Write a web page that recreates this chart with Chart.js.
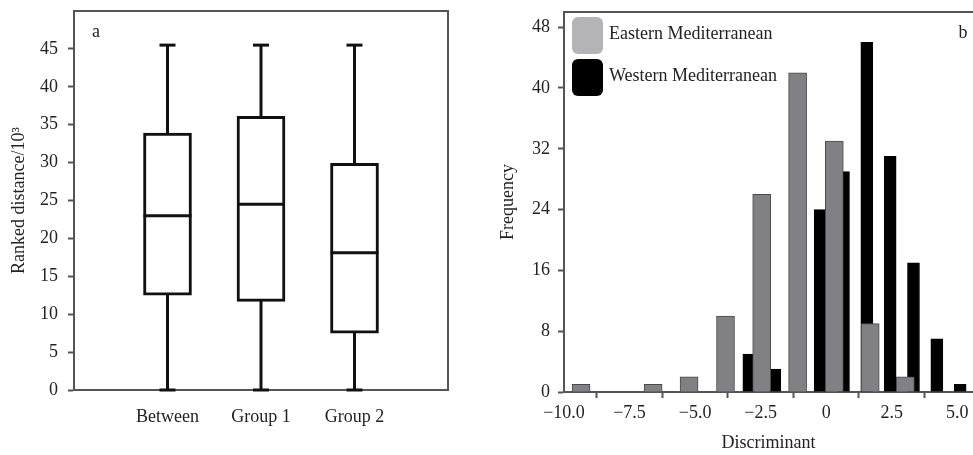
<!DOCTYPE html>
<html>
<head>
<meta charset="utf-8">
<script src="https://cdn.jsdelivr.net/npm/chart.js@4.4.0/dist/chart.umd.min.js"></script>
<style>
    html, body { margin: 0; padding: 0; background: #fff; }
    #wrap { position: relative; width: 973px; height: 455px; }
    #boxWrap { position: absolute; left: 0; top: 0; }
    #histWrap { position: absolute; left: 486px; top: 0; }
</style>
</head>
<body>
<div id="wrap">
    <div id="boxWrap"><canvas id="boxChart" width="486" height="455"></canvas></div>
    <div id="histWrap"><canvas id="histChart" width="487" height="455"></canvas></div>
</div>
<script>
// panel a: ranked distances
const groups = ['Between', 'Group 1', 'Group 2'];
const whiskerLow = [0, 0, 0];
const quartile1 = [12.5, 11.7, 7.5];
const medians = [23.0, 24.5, 18.1];
const quartile3 = [33.9, 36.1, 29.9];
const whiskerHigh = [45.5, 45.5, 45.5];
const distanceTicks = [0, 5, 10, 15, 20, 25, 30, 35, 40, 45];

// panel b: discriminant histogram
const seriesNames = ['Eastern Mediterranean', 'Western Mediterranean'];
const eastCenters = [-9.35, -6.6, -5.23, -3.84, -2.46, -1.09, 0.31, 1.68, 3.02];
const eastCounts = [1, 1, 2, 10, 26, 42, 33, 9, 2];
const westCenters = [-2.95, -1.96, -0.23, 0.66, 1.55, 2.44, 3.33, 4.22, 5.11];
const westCounts = [5, 3, 24, 29, 46, 31, 17, 7, 1];
const discriminantTicks = [-10, -7.5, -5, -2.5, 0, 2.5, 5];
const frequencyTicks = [0, 8, 16, 24, 32, 40, 48];

const serif = 'Liberation Serif';
const textColor = '#222';
const lineColor = '#555';
const font = {family: serif, size: 18};

// top/right frame lines, panel letter and (optional) legend
const framePlugin = {
    id: 'frame',
    afterDraw(chart, args, opts) {
        const {ctx, chartArea: a} = chart;
        ctx.save();
        ctx.strokeStyle = lineColor;
        ctx.lineWidth = 2;
        ctx.beginPath();
        ctx.moveTo(a.left, a.top);
        ctx.lineTo(a.right, a.top);
        if (opts.right) {
            ctx.lineTo(a.right, a.bottom);
        }
        ctx.stroke();

        ctx.fillStyle = textColor;
        ctx.font = `18px "${serif}"`;
        ctx.textBaseline = 'middle';
        ctx.textAlign = 'center';
        ctx.fillText(opts.letter, opts.letterX(a), a.top + 21);

        if (opts.legend) {
            ctx.textAlign = 'left';
            opts.legend.forEach((item, i) => {
                const y = a.top + 5 + i * 42;
                ctx.fillStyle = item.color;
                ctx.beginPath();
                ctx.roundRect(a.left + 8, y, 31, 37, 6);
                ctx.fill();
                ctx.fillStyle = textColor;
                ctx.fillText(item.label, a.left + 45, y + 17);
            });
        }
        ctx.restore();
    }
};

function fixedTicks(values) {
    return function (scale) {
        scale.ticks = values.map(v => ({value: v}));
    };
}

// fixes the axis thickness and drops the label overhang padding
function fixedSize(prop, size) {
    return function (scale) {
        scale[prop] = size;
        scale.paddingTop = 0;
        scale.paddingBottom = 0;
        scale.paddingLeft = 0;
        scale.paddingRight = 0;
    };
}

function buildBoxChart() {
    const slots = ['', ...groups, ''];
    const boxes = slots.map((s, i) => (i === 0 || i === slots.length - 1) ? null : [quartile1[i - 1], quartile3[i - 1]]);

    const whiskers = groups.map((g, i) => ({
        type: 'line',
        data: [{x: g, y: whiskerLow[i]}, {x: g, y: whiskerHigh[i]}],
        borderColor: '#111',
        borderWidth: 3,
        pointRadius: 0,
        order: 3,
        clip: false
    }));

    const caps = {
        type: 'line',
        showLine: false,
        data: groups.flatMap((g, i) => [{x: g, y: whiskerLow[i]}, {x: g, y: whiskerHigh[i]}]),
        pointStyle: 'line',
        pointRadius: 8,
        pointBorderWidth: 3,
        pointBorderColor: '#111',
        order: 1,
        clip: false
    };

    const medianMarks = {
        type: 'line',
        showLine: false,
        data: groups.map((g, i) => ({x: g, y: medians[i]})),
        pointStyle: 'line',
        pointRadius: 24,
        pointBorderWidth: 3,
        pointBorderColor: '#111',
        order: 1
    };

    new Chart(document.getElementById('boxChart'), {
        type: 'bar',
        data: {
            labels: slots,
            datasets: [{
                    type: 'bar',
                    data: boxes,
                    backgroundColor: '#fff',
                    borderColor: '#111',
                    borderWidth: 3,
                    borderSkipped: false,
                    barThickness: 48,
                    order: 2
                }, ...whiskers, caps, medianMarks]
        },
        options: {
            responsive: false,
            animation: false,
            layout: {autoPadding: false, padding: {top: 11, right: 38, left: 0, bottom: 0}},
            plugins: {
                legend: {display: false},
                tooltip: {enabled: false},
                frame: {right: true, letter: 'a', letterX: a => a.left + 22}
            },
            scales: {
                x: {
                    type: 'category',
                    offset: false,
                    grid: {display: true, drawOnChartArea: false, drawTicks: false},
                    border: {display: true, color: lineColor, width: 2},
                    ticks: {font: font, color: textColor, padding: 16, autoSkip: false, maxRotation: 0},
                    afterFit: fixedSize('height', 65)
                },
                y: {
                    min: 0,
                    max: 50,
                    afterBuildTicks: fixedTicks(distanceTicks),
                    grid: {drawOnChartArea: false, tickLength: 6, tickColor: lineColor, tickWidth: 2},
                    border: {display: true, color: lineColor, width: 2},
                    ticks: {font: font, color: textColor, padding: 10},
                    title: {display: true, text: 'Ranked distance/10³', font: font, color: textColor, padding: {top: 8, bottom: 0}},
                    afterFit: fixedSize('width', 74)
                }
            }
        },
        plugins: [framePlugin]
    });
}

function buildHistChart() {
    const east = eastCenters.map((c, i) => ({x: c, y: eastCounts[i]}));
    const west = westCenters.map((c, i) => ({x: c, y: westCounts[i]}));

    new Chart(document.getElementById('histChart'), {
        type: 'bar',
        data: {
            datasets: [{
                    label: seriesNames[0],
                    data: east,
                    backgroundColor: '#808085',
                    borderColor: '#4a4a4a',
                    borderWidth: 1,
                    barThickness: 18,
                    grouped: false,
                    order: 1
                }, {
                    label: seriesNames[1],
                    data: west,
                    backgroundColor: '#000',
                    borderColor: '#000',
                    borderWidth: 1,
                    barThickness: 12,
                    grouped: false,
                    order: 2
                }]
        },
        options: {
            responsive: false,
            animation: false,
            layout: {autoPadding: false, padding: {top: 12, right: 0, left: 0, bottom: 0}},
            plugins: {
                legend: {display: false},
                tooltip: {enabled: false},
                frame: {
                    right: false,
                    letter: 'b',
                    letterX: a => a.right - 10,
                    legend: [
                        {label: seriesNames[0], color: '#b4b4b6'},
                        {label: seriesNames[1], color: '#000'}
                    ]
                }
            },
            scales: {
                x: {
                    type: 'linear',
                    offset: false,
                    min: -10,
                    max: 5.6,
                    afterBuildTicks: fixedTicks(discriminantTicks),
                    grid: {drawOnChartArea: false, tickLength: 6, tickColor: lineColor, tickWidth: 2},
                    border: {display: true, color: lineColor, width: 2},
                    ticks: {
                        font: font,
                        color: textColor,
                        padding: 4,
                        maxRotation: 0,
                        callback: v => (v === 0 ? '0' : v.toFixed(1).replace('-', '\u2212'))
                    },
                    title: {display: true, text: 'Discriminant', font: font, color: textColor, padding: {top: 0, bottom: 1}},
                    afterFit: fixedSize('height', 63)
                },
                y: {
                    min: 0,
                    max: 50,
                    afterBuildTicks: fixedTicks(frequencyTicks),
                    grid: {drawOnChartArea: false, tickLength: 6, tickColor: lineColor, tickWidth: 2},
                    border: {display: true, color: lineColor, width: 2},
                    ticks: {font: font, color: textColor, padding: 8},
                    title: {display: true, text: 'Frequency', font: font, color: textColor, padding: {top: 11, bottom: 0}},
                    afterFit: fixedSize('width', 78)
                }
            }
        },
        plugins: [framePlugin]
    });
}

buildBoxChart();
buildHistChart();
</script>
</body>
</html>
